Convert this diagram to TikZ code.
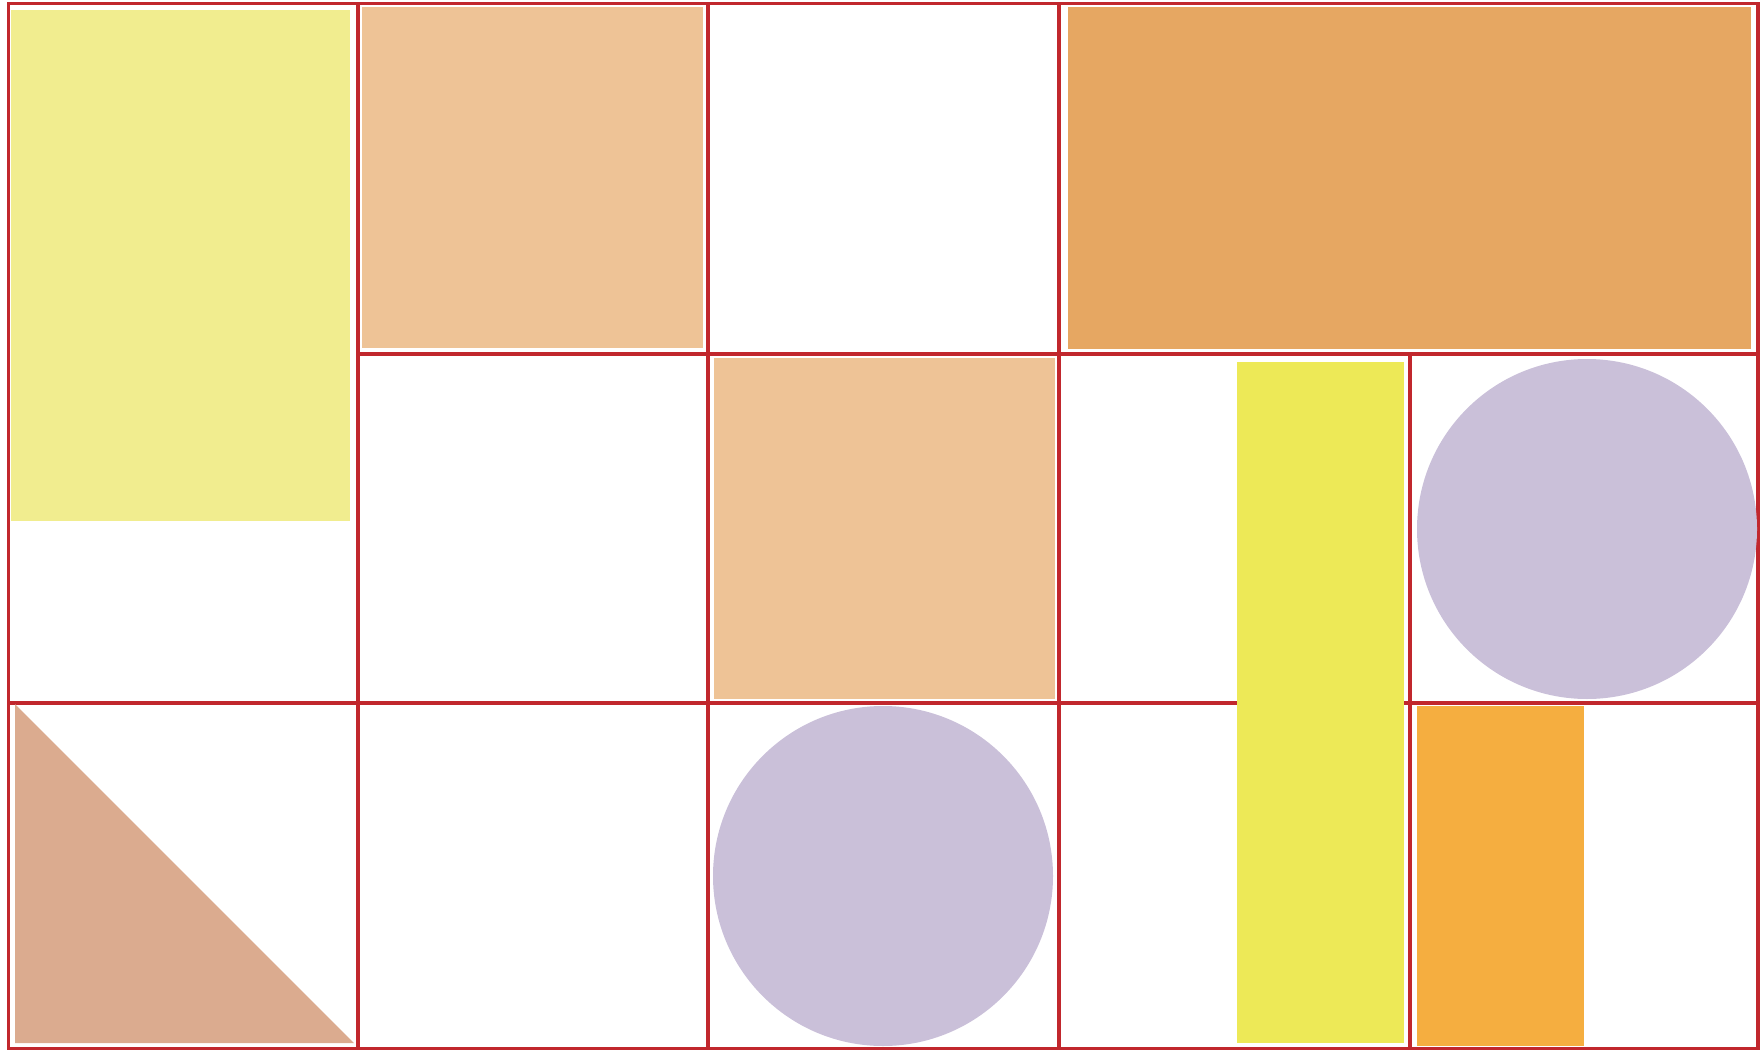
\documentclass[tikz,border=0pt]{standalone}
\usepackage{tikz}
\definecolor{gridred}{HTML}{C1272D}
\definecolor{paleyellow}{HTML}{F1ED8F}
\definecolor{peach}{HTML}{EEC396}
\definecolor{darkpeach}{HTML}{E6A762}
\definecolor{brightyellow}{HTML}{EDE957}
\definecolor{lavender}{HTML}{CAC0D9}
\definecolor{amber}{HTML}{F5AE40}
\definecolor{clay}{HTML}{DBAB8F}
\tikzset{
  gridline/.style={draw=gridred, line width=3.5pt, line cap=rect},
}

\begin{document}
\begin{tikzpicture}[x=1pt, y=-1pt]
  % Frame (pixel units, y pointing down)
  \useasboundingbox (0,0) rectangle (1764,1051);

  % Grid positions
  \def\xa{8.5}
  \def\xb{358}
  \def\xc{708}
  \def\xd{1059}
  \def\xe{1410}
  \def\xf{1758}
  \def\ya{3.5}
  \def\yb{354}
  \def\yc{703}
  \def\yd{1048.5}

  % Horizontal lines (no line between rows 1 and 2 in column 1)
  \draw[gridline] (\xa,\ya) -- (\xf,\ya);
  \draw[gridline] (\xb,\yb) -- (\xf,\yb);
  \draw[gridline] (\xa,\yc) -- (\xf,\yc);
  \draw[gridline] (\xa,\yd) -- (\xf,\yd);

  % Vertical lines
  \foreach \x in {\xa,\xb,\xc,\xd,\xf}
    \draw[gridline] (\x,\ya) -- (\x,\yd);
  \draw[gridline] (\xe,\yb) -- (\xe,\yd);

  % Rectangles
  \fill[paleyellow] (11,10) rectangle (350,521);
  \fill[peach] (362,7) rectangle (703,348);
  \fill[peach] (714,358) rectangle (1055,699);
  \fill[darkpeach] (1068,7) rectangle (1751,349);
  \fill[brightyellow] (1237,362) rectangle (1404,1043);
  \fill[amber] (1417,706) rectangle (1584,1045.5);

  % Circles
  \fill[lavender] (1587,529) circle[radius=170];
  \fill[lavender] (883,876) circle[radius=170];

  % Triangle
  \fill[clay] (15,704) -- (15,1043) -- (354,1043) -- cycle;

\end{tikzpicture}
\end{document}
